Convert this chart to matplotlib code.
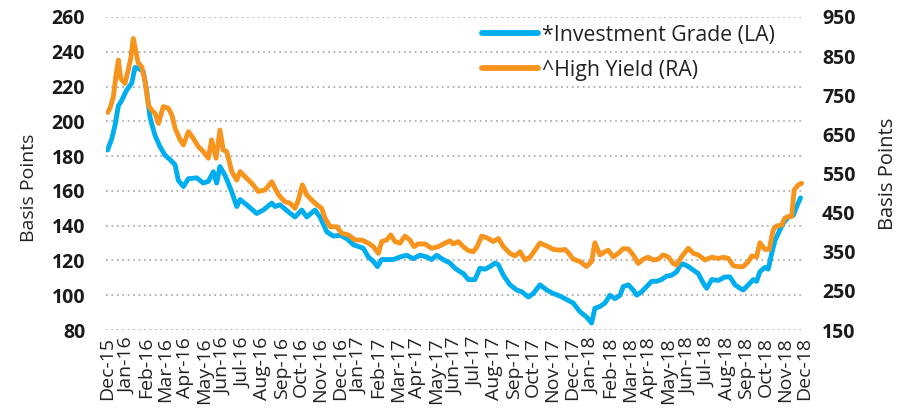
import matplotlib
matplotlib.use("Agg")
import matplotlib.pyplot as plt
import pandas as pd

plt.rcParams['font.family'] = ['Open Sans', 'DejaVu Sans']

# month offsets from Dec-15 and spreads (bp)
ig_months = [0.0, 0.22, 0.39, 0.56, 0.73, 0.99, 1.25, 1.42, 1.68, 1.85, 2.03, 2.20, 2.45, 2.71,
             2.97, 3.23, 3.49, 3.66, 3.92, 4.18, 4.61, 4.95, 5.21, 5.47, 5.64, 5.81, 6.07, 6.42,
             6.68, 6.85, 7.19, 7.71, 8.05, 8.49, 8.66, 8.91, 9.34, 9.69, 10.04, 10.30, 10.72,
             10.98, 11.33, 11.67, 12.02, 12.37, 12.71, 12.97, 13.22, 13.48, 13.74, 13.95, 14.17,
             14.77, 15.12, 15.46, 15.80, 16.15, 16.50, 16.75, 17.01, 17.35, 17.70, 17.96, 18.22,
             18.39, 18.65, 18.99, 19.25, 19.51, 19.77, 20.03, 20.20, 20.46, 20.80, 21.15, 21.41,
             21.75, 22.01, 22.35, 22.70, 23.04, 23.39, 23.73, 24.07, 24.42, 24.76, 25.02, 25.19,
             25.45, 25.71, 25.97, 26.23, 26.49, 26.66, 26.92, 27.17, 27.35, 27.61, 27.87, 28.13,
             28.38, 28.64, 28.90, 29.16, 29.42, 29.59, 29.76, 30.02, 30.28, 30.53, 30.79, 30.97,
             31.23, 31.57, 31.91, 32.17, 32.43, 32.69, 32.86, 33.12, 33.38, 33.55, 33.72, 33.98,
             34.15, 34.33, 34.50, 34.75, 34.93, 35.19, 35.45, 35.62, 35.82]
ig_vals = [183.5, 190, 198, 209, 212, 218, 222, 231, 230, 228.5, 217, 202, 192, 185.5,
           180.5, 178, 175, 166, 162.5, 167, 167.5, 164.5, 165.5, 171, 164.5, 174, 169, 159.5,
           151, 155, 152, 147, 149, 153, 151, 152, 148, 145, 149, 145, 149,
           145, 136.5, 134, 134.5, 132.5, 129, 128, 127, 122, 119.5, 116.5, 120.5,
           120.5, 122, 123, 121, 123, 122, 120.5, 123, 120.5, 118.5, 115.5, 113.5,
           112.5, 109, 109, 115.5, 115, 116.5, 118.5, 117.5, 111.5, 106, 103, 102,
           99, 101, 106, 103, 101, 99.5, 97.5, 95.5, 90.5, 87.5, 84, 92.5,
           93.5, 95.5, 100, 98, 100, 105, 106, 103, 100, 102, 105, 108,
           108, 109, 111, 111.5, 113.5, 117, 118, 116.5, 114.5, 112.5, 107, 104,
           109, 108.5, 110.5, 110.5, 106, 104, 103, 106, 109, 108, 113.5, 116,
           115, 124, 131.5, 137.5, 141.5, 145, 146, 151, 156]

hy_months = [0.0, 0.13, 0.30, 0.44, 0.56, 0.68, 0.90, 1.07, 1.20, 1.33, 1.47, 1.59, 1.77, 1.94,
             2.11, 2.28, 2.45, 2.63, 2.88, 3.14, 3.32, 3.49, 3.75, 3.92, 4.18, 4.43, 4.69, 4.95,
             5.21, 5.38, 5.61, 5.81, 5.98, 6.16, 6.42, 6.68, 6.85, 7.19, 7.53, 7.79, 8.14, 8.49,
             8.74, 8.91, 9.17, 9.43, 9.69, 9.86, 10.07, 10.30, 10.56, 10.82, 11.07, 11.24, 11.50,
             11.85, 12.11, 12.45, 12.79, 13.14, 13.48, 13.74, 14.00, 14.17, 14.43, 14.64, 14.86,
             15.12, 15.37, 15.63, 15.84, 16.06, 16.41, 16.75, 17.10, 17.44, 17.70, 17.87, 18.13,
             18.39, 18.65, 18.90, 19.08, 19.34, 19.60, 19.94, 20.20, 20.46, 20.80, 21.06, 21.32,
             21.58, 21.84, 22.09, 22.35, 22.70, 23.04, 23.39, 23.64, 23.81, 24.07, 24.42, 24.76,
             25.02, 25.19, 25.45, 25.71, 25.88, 26.14, 26.40, 26.66, 26.92, 27.17, 27.43, 27.69,
             27.95, 28.21, 28.47, 28.72, 28.98, 29.24, 29.42, 29.67, 30.02, 30.28, 30.53, 30.88,
             31.23, 31.57, 31.83, 32.09, 32.35, 32.60, 32.86, 33.12, 33.30, 33.55, 33.72, 33.98,
             34.20, 34.41, 34.58, 34.84, 35.01, 35.19, 35.36, 35.49, 35.71, 35.88]
hy_vals = [706, 717, 746, 802, 840, 793, 780, 815, 844, 895, 861, 832, 823, 785,
           725, 712, 704, 678, 721, 717, 700, 666, 636, 623, 657, 640, 619, 606,
           589, 636, 589, 661, 610, 606, 555, 533, 555, 538, 521, 504, 508, 529,
           504, 491, 478, 474, 461, 482, 521, 495, 482, 470, 461, 436, 414,
           414, 397, 393, 380, 380, 372, 363, 346, 376, 380, 393, 376,
           372, 390, 380, 363, 370, 370, 359, 363, 372, 378, 370, 376,
           363, 353, 350, 361, 390, 386, 376, 384, 363, 346, 339, 350,
           329, 336, 354, 372, 365, 356, 354, 356, 348, 331, 325, 312,
           325, 373, 342, 350, 354, 337, 346, 358, 357, 342, 320, 331,
           336, 329, 331, 342, 337, 320, 316, 337, 359, 346, 342, 329,
           336, 333, 336, 333, 314, 312, 312, 325, 339, 337, 373, 356,
           356, 406, 416, 418, 436, 440, 440, 508, 521, 525]

month_labels = list(pd.date_range('2015-12-01', periods=37, freq='MS').strftime('%b-%y'))
left_ticks = list(range(80, 261, 20))
right_ticks = list(range(150, 951, 100))

blue = '#00aeef'
orange = '#f7941d'

fig = plt.figure(figsize=(9.09, 4.16), dpi=100)
ax = fig.add_axes([106/909, 86/416, 698/909, 313/416])
ax2 = ax.twinx()

l1, = ax.plot(ig_months, ig_vals, color=blue, lw=3.5, solid_capstyle='round',
              solid_joinstyle='round', label='*Investment Grade (LA)')
l2, = ax2.plot(hy_months, hy_vals, color=orange, lw=3.5, solid_capstyle='round',
               solid_joinstyle='round', label='^High Yield (RA)')

ax.set_xlim(-0.08, 36.0)
ax.set_ylim(80, 260)
ax2.set_ylim(150, 950)
ax.set_yticks(left_ticks)
ax2.set_yticks(right_ticks)
ax.set_xticks(range(len(month_labels)))
ax.set_xticklabels(month_labels, rotation=90, fontsize=14, color='#222222')

ax.yaxis.grid(True, linestyle=(0, (1, 2)), color='#b0b0b0', lw=1.3)
ax.set_axisbelow(True)
for a in (ax, ax2):
    for s in a.spines.values():
        s.set_visible(False)
    a.tick_params(length=0)

ax.tick_params(axis='y', pad=15, labelsize=14)
ax2.tick_params(axis='y', pad=13, labelsize=14)
ax.tick_params(axis='x', pad=5)
for t in ax.get_yticklabels() + ax2.get_yticklabels():
    t.set_fontweight('bold')
    t.set_color('#1a1a1a')

ax.set_ylabel('Basis Points', fontsize=14, color='#222222')
ax2.set_ylabel('Basis Points', fontsize=14.5, color='#222222')
ax.yaxis.set_label_coords(-0.097, 0.455)
ax2.yaxis.set_label_coords(1.106, 0.5)

leg = ax2.legend(handles=[l1, l2], loc='upper left', bbox_to_anchor=(0.538, 0.975),
                 frameon=False, fontsize=15.3, handlelength=2.65, handletextpad=0.2,
                 borderpad=0, borderaxespad=0, labelspacing=0.66)
for t in leg.get_texts():
    t.set_color('#222222')
for h in leg.get_lines():
    h.set_linewidth(4.2)

fig.savefig('out.png', dpi=100)
